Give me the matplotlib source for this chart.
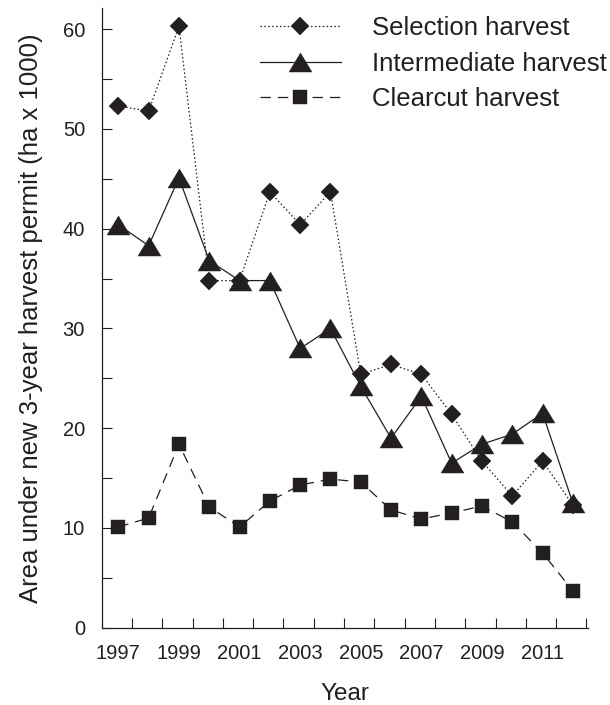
import matplotlib
matplotlib.use("Agg")
import matplotlib.pyplot as plt
from matplotlib.path import Path
import numpy as np

years = list(range(1997, 2013))
selection = [52.3, 51.8, 60.3, 34.8, 34.8, 43.7, 40.4, 43.7, 25.4, 26.4, 25.4, 21.4, 16.7, 13.2, 16.7, 12.3]
intermediate = [40.4, 38.3, 45.1, 36.8, 34.8, 34.8, 28.0, 30.0, 24.2, 19.0, 23.2, 16.5, 18.4, 19.4, 21.5, 12.5]
clearcut = [10.1, 11.0, 18.4, 12.1, 10.1, 12.7, 14.3, 14.9, 14.6, 11.8, 10.9, 11.5, 12.2, 10.6, 7.5, 3.7]

series_names = ["Selection harvest", "Intermediate harvest", "Clearcut harvest"]
xtick_labels = ["1997", "1999", "2001", "2003", "2005", "2007", "2009", "2011"]
ytick_values = [0, 10, 20, 30, 40, 50, 60]

INK = "#231f20"
plt.rcParams["font.family"] = ["Liberation Sans", "DejaVu Sans"]
plt.rcParams["lines.scale_dashes"] = False

fig = plt.figure(figsize=(6.1, 7.05), dpi=100)
W, H = 610, 705
left, right, top, bottom = 101.7, 588.0, 8.3, 627.7
ax = fig.add_axes([left / W, 1 - bottom / H, (right - left) / W, (bottom - top) / H])

tri = Path([(-1, -0.83), (1, -0.83), (0, 0.83), (-1, -0.83)],
           [Path.MOVETO, Path.LINETO, Path.LINETO, Path.CLOSEPOLY])

lw = 0.9
ax.plot(years, selection, color=INK, lw=lw, dashes=(1.1, 1.7),
        marker="D", ms=9.2, mfc=INK, mec=INK, mew=0.3, label=series_names[0], zorder=3)
ax.plot(years, intermediate, color=INK, lw=lw, linestyle="-",
        marker=tri, ms=16.5, mfc=INK, mec=INK, mew=0.3, label=series_names[1], zorder=4)
ax.plot(years, clearcut, color=INK, lw=lw, dashes=(7.5, 5.0),
        marker="s", ms=10, mfc=INK, mec=INK, mew=0.3, label=series_names[2], zorder=3)

ax.set_xlim(1996.45, 2012.5)
ax.set_ylim(0, 62.1)

label_years = [int(t) for t in xtick_labels]
ax.set_xticks(label_years)
ax.set_xticklabels(xtick_labels)
ax.set_xticks([y + 0.45 for y in years], minor=True)
ax.set_yticks(ytick_values)
ax.set_yticklabels([str(v) for v in ytick_values])
ax.set_yticks([v + 5 for v in ytick_values[:-1]], minor=True)

ax.tick_params(axis="x", which="major", length=0, pad=12, labelsize=14.5, labelcolor=INK)
ax.tick_params(axis="x", which="minor", direction="in", length=7.2, width=0.8, color=INK)
ax.tick_params(axis="y", which="both", direction="in", length=7.2, width=0.8, color=INK)
ax.tick_params(axis="y", which="major", pad=12, labelsize=14.5, labelcolor=INK)

for s in ("top", "right"):
    ax.spines[s].set_visible(False)
for s in ("left", "bottom"):
    ax.spines[s].set_linewidth(0.9)
    ax.spines[s].set_color(INK)

ax.set_xlabel("Year", fontsize=17.5, color=INK, labelpad=14)
ax.set_ylabel("Area under new 3-year harvest permit (ha x 1000)", fontsize=18.5, color=INK, labelpad=14)

leg = ax.legend(loc="upper left", bbox_to_anchor=(260 / W, 1 - 16 / H), bbox_transform=fig.transFigure,
                frameon=False, fontsize=18.5, handlelength=3.14, handletextpad=1.2,
                labelspacing=0.45, borderpad=0, borderaxespad=0, numpoints=1)
for t in leg.get_texts():
    t.set_color(INK)

fig.savefig("out.png", dpi=100)
